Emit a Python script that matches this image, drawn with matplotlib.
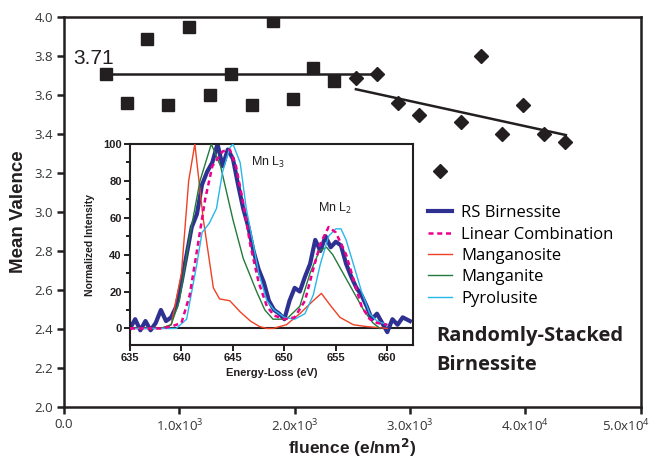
import numpy as np
import matplotlib
matplotlib.use("Agg")
import matplotlib.pyplot as plt
import matplotlib.transforms as mtransforms

plt.rcParams['mathtext.fontset'] = 'custom'
plt.rcParams['mathtext.rm'] = 'Open Sans'
plt.rcParams['mathtext.it'] = 'Open Sans'

# === Main panel data: mean valence vs fluence ===
sq_x = [364, 546, 719, 901, 1083, 1265, 1447, 1629, 1811, 1984, 2158, 2340]
sq_y = [3.71, 3.56, 3.89, 3.55, 3.95, 3.60, 3.71, 3.55, 3.98, 3.58, 3.74, 3.67]
dia_x = [2530, 2712, 2894, 3076, 3258, 3440, 3614, 3796, 3977, 4159, 4341]
dia_y = [3.69, 3.71, 3.56, 3.50, 3.21, 3.46, 3.80, 3.40, 3.55, 3.40, 3.36]
flat_x = [364, 2740]
flat_y = [3.71, 3.71]
slope_x = [2530, 4350]
slope_y = [3.63, 3.395]
xtick_vals = [0, 1000, 2000, 3000, 4000, 5000]
xtick_labels = ["0.0", r"1.0x10$^{3}$", r"2.0x10$^{3}$", r"3.0x10$^{3}$",
                r"4.0x10$^{4}$", r"5.0x10$^{4}$"]

# === Inset data: EELS spectra ===
rs_e = [635, 635.5, 636, 636.5, 637, 637.5, 638, 638.5, 639, 639.5, 640, 640.5,
        641, 641.5, 642, 642.5, 643, 643.5, 644, 644.5, 645, 645.5, 646, 646.5,
        647, 647.5, 648, 648.5, 649, 649.5, 650, 650.5, 651, 651.5, 652, 652.5,
        653, 653.5, 654, 654.5, 655, 655.5, 656, 656.5, 657, 657.5, 658, 658.5,
        659, 659.5, 660, 660.5, 661, 661.5, 662.2]
rs_i = [0, 5, -1, 4, -1, 3, 10, 4, 6, 12, 25, 40,
        55, 62, 78, 85, 90, 100, 88, 97, 92, 78, 65, 55,
        42, 32, 25, 15, 10, 8, 5, 15, 22, 20, 28, 35,
        48, 42, 50, 44, 47, 45, 35, 28, 22, 18, 12, 5,
        8, 3, -2, 5, 2, 6, 4]
lc_e = [635, 638, 639, 640, 640.8, 641.5, 642.3, 643, 644, 644.7, 645.3, 646,
        646.7, 647.5, 648.3, 649, 650, 651, 652, 652.8, 653.5, 654.3, 655, 656,
        656.8, 657.5, 658.3, 659, 660]
lc_i = [0, 0, 1, 3, 18, 42, 70, 88, 96, 97, 88, 68,
        45, 25, 12, 7, 5, 6, 15, 32, 46, 55, 52, 40,
        25, 12, 5, 3, 2]
mo_e = [635, 638, 639, 640, 640.7, 641.3, 642.1, 643.1, 643.7, 644.7, 645.7, 646.7,
        647.6, 648.3, 648.9, 650.2, 651.5, 652.8, 653.6, 654.4, 655.4, 656.7, 658, 660]
mo_i = [0, 0, 2, 30, 80, 100, 60, 22, 16, 15, 9, 4,
        1, 0, 0, 2, 8, 15, 19, 13, 6, 2, 1, 0]
mn_e = [635, 638, 639, 639.8, 640.8, 641.8, 642.9, 643.8, 645, 646, 647.3, 648.1,
        648.9, 650.2, 651.5, 652.5, 653.4, 654.1, 654.7, 655.7, 656.7, 657.7, 658.6, 659.3]
mn_i = [0, 0, 2, 15, 50, 80, 100, 88, 59, 38, 20, 10,
        5, 5, 12, 30, 42, 44, 40, 30, 20, 10, 3, 0]
py_e = [635, 639.5, 640.5, 641.5, 642, 642.7, 643.4, 644, 644.7, 645, 645.7, 646.3,
        647, 647.5, 648.3, 649, 650, 651, 652, 652.8, 653.5, 654.3, 655, 655.5,
        656, 656.7, 657.5, 658.3, 659, 660]
py_i = [0, 0, 5, 35, 52, 57, 65, 85, 98, 100, 90, 65,
        45, 30, 15, 10, 6, 5, 8, 18, 35, 50, 54, 54,
        48, 35, 20, 8, 4, 2]

ink = "#231f20"

fig = plt.figure(figsize=(6.54, 4.62), dpi=100)
ax = fig.add_axes([0.0979, 0.119, 0.882, 0.844])

ax.plot(flat_x, flat_y, color=ink, lw=1.8, zorder=2)
ax.plot(slope_x, slope_y, color=ink, lw=1.8, zorder=2)
ax.plot(sq_x, sq_y, "s", color=ink, ms=8, zorder=3)
ax.plot(dia_x, dia_y, "D", color=ink, ms=7, zorder=3)

ax.set_xlim(0, 5000)
ax.set_ylim(2.0, 4.0)
ax.set_xticks(xtick_vals)
ax.set_xticklabels(xtick_labels)
ax.set_yticks(np.arange(2.0, 4.01, 0.2))
ax.set_yticklabels([f"{v:.1f}" for v in np.arange(2.0, 4.01, 0.2)])
for lab in ax.get_xticklabels() + ax.get_yticklabels():
    lab.set_family("Open Sans")
    lab.set_fontsize(9.5)
    lab.set_color("#333333")
ax.tick_params(direction="out", length=5, width=1.8, color=ink, pad=3)
# last x label sits left of its tick, as in the original figure
last = ax.get_xticklabels()[-1]
last.set_transform(last.get_transform() +
                   mtransforms.ScaledTranslation(-0.15, 0, fig.dpi_scale_trans))
for sp in ax.spines.values():
    sp.set_linewidth(1.8)
    sp.set_color(ink)

ax.set_ylabel("Mean Valence", family="Liberation Sans", fontweight="bold",
              fontsize=13.5, color=ink, labelpad=5)
ax.set_xlabel("fluence (e/nm$^{\\mathbf{2}}$)", family="Liberation Sans",
              fontweight="bold", fontsize=12.5, color=ink, labelpad=1)
ax.text(0.016, 3.76, "3.71", transform=ax.get_yaxis_transform(),
        family="Liberation Sans", fontsize=15, color=ink)

ax.text(0.646, 0.182, "Randomly-Stacked", transform=ax.transAxes,
        family="Open Sans", fontweight="bold", fontsize=14.5, color=ink, va="center")
ax.text(0.646, 0.108, "Birnessite", transform=ax.transAxes,
        family="Open Sans", fontweight="bold", fontsize=14.5, color=ink, va="center")

# === Inset ===
ins = fig.add_axes([0.1988, 0.2532, 0.4327, 0.4351])
c_rs, c_lc, c_mo, c_mn, c_py = "#2e3192", "#ec008c", "#ef4123", "#237a3b", "#27b7ea"
ins.axhline(0, color=ink, lw=1.5, zorder=1)
l_mo, = ins.plot(mo_e, mo_i, color=c_mo, lw=1.0, label="Manganosite", zorder=3)
l_mn, = ins.plot(mn_e, mn_i, color=c_mn, lw=1.0, label="Manganite", zorder=3)
l_py, = ins.plot(py_e, py_i, color=c_py, lw=1.0, label="Pyrolusite", zorder=3)
l_rs, = ins.plot(rs_e, rs_i, color=c_rs, lw=3.0, label="RS Birnessite", zorder=2)
l_lc, = ins.plot(lc_e, lc_i, color=c_lc, lw=1.8, ls=(0, (2, 1.5)),
                 label="Linear Combination", zorder=4)

ins.set_xlim(635, 662.5)
ins.set_ylim(-9, 100)
ins.set_xticks([635, 640, 645, 650, 655, 660])
ins.set_yticks([0, 20, 40, 60, 80, 100])
ins.set_yticks(np.arange(10, 100, 20), minor=True)
ins.tick_params(which="both", direction="out", color=ink, width=1.4)
ins.tick_params(which="major", length=4, labelsize=8, pad=2)
ins.tick_params(which="minor", length=3)
for lab in ins.get_xticklabels() + ins.get_yticklabels():
    lab.set_family("Liberation Sans")
    lab.set_fontweight("bold")
    lab.set_color(ink)
for sp in ins.spines.values():
    sp.set_linewidth(1.5)
    sp.set_color(ink)
ins.set_ylabel("Normalized Intensity", family="Liberation Sans", fontweight="bold",
               fontsize=7.5, color=ink, labelpad=6)
ins.set_xlabel("Energy-Loss (eV)", family="Liberation Sans", fontweight="bold",
               fontsize=8, color=ink, labelpad=3)
ins.text(646.8, 88, "Mn L$_{3}$", family="Liberation Sans", fontsize=9, color=ink)
ins.text(653.3, 63, "Mn L$_{2}$", family="Liberation Sans", fontsize=9, color=ink)

fig.legend(handles=[l_rs, l_lc, l_mo, l_mn, l_py], loc="upper left",
           bbox_to_anchor=(0.645, 0.570), frameon=False,
           prop={"family": "Open Sans", "size": 12}, handlelength=1.4,
           handletextpad=0.55, labelspacing=0.32, borderaxespad=0)

fig.savefig("out.png", dpi=100)
